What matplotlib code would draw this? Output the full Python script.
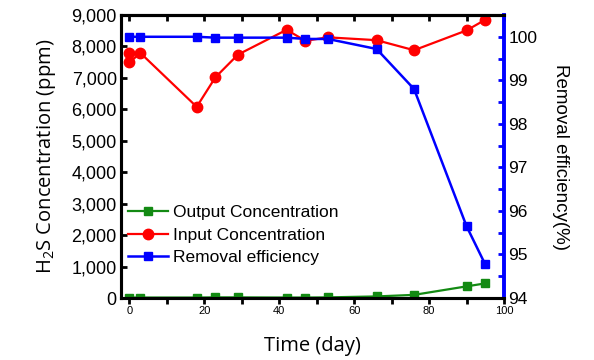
import matplotlib
matplotlib.use('Agg')
import matplotlib.pyplot as plt
from matplotlib.ticker import MultipleLocator, FuncFormatter

# Sampling days
days = [0, 3, 18, 23, 29, 42, 47, 53, 66, 76, 90, 95]
input_days = [0, 0, 3, 18, 23, 29, 42, 47, 53, 66, 76, 90, 95]

# H2S concentrations (ppm)
output_conc = [15, 15, 15, 20, 20, 15, 15, 20, 50, 100, 370, 465]
input_conc = [7790, 7490, 7790, 6080, 7020, 7740, 8530, 8180, 8290, 8200, 7880, 8510, 8850]

# Removal efficiency (%)
removal_eff = [100.0, 100.0, 100.0, 99.98, 99.98, 99.98, 99.95, 99.95, 99.72, 98.8, 95.65, 94.77]

tick_font = 'Liberation Sans'
label_font = 'Open Sans'

plt.rcParams['mathtext.fontset'] = 'custom'
plt.rcParams['mathtext.rm'] = label_font

fig = plt.figure(figsize=(5.94, 3.6), dpi=100)
ax1 = fig.add_axes([0.2037, 0.1722, 0.6448, 0.7861])
ax2 = ax1.twinx()

l_out, = ax1.plot(days, output_conc, color='#138a13', marker='s', markersize=6,
                  linewidth=1.6, label='Output Concentration')
l_in, = ax1.plot(input_days, input_conc, color='#ff0000', marker='o', markersize=7.5,
                 linewidth=1.6, label='Input Concentration')
l_eff, = ax2.plot(days, removal_eff, color='#0000ff', marker='s', markersize=6,
                  linewidth=1.8, label='Removal efficiency')

ax1.set_xlim(-2.2, 100)
ax1.set_ylim(0, 9000)
ax2.set_ylim(94, 100.5)

ax1.xaxis.set_major_locator(MultipleLocator(20))
ax1.xaxis.set_minor_locator(MultipleLocator(10))
ax1.yaxis.set_major_locator(MultipleLocator(1000))
ax1.yaxis.set_major_formatter(FuncFormatter(lambda v, p: f'{int(v):,}'))
ax2.yaxis.set_major_locator(MultipleLocator(1))
ax2.yaxis.set_minor_locator(MultipleLocator(0.5))
ax2.yaxis.set_major_formatter(FuncFormatter(lambda v, p: f'{int(round(v))}'))

# spines
for side in ['left', 'bottom', 'top']:
    ax1.spines[side].set_linewidth(2.2)
    ax2.spines[side].set_linewidth(2.2)
ax2.spines['right'].set_color('#0000ff')
ax2.spines['right'].set_linewidth(2.8)
ax1.spines['right'].set_visible(False)

ax1.tick_params(axis='x', which='both', direction='out', length=4, width=2,
                labelsize=8, pad=2, top=False)
ax1.tick_params(axis='y', which='both', direction='in', length=4, width=2,
                labelsize=13, pad=3)
ax2.tick_params(axis='y', which='both', direction='in', length=4, width=2,
                color='#0000ff', labelsize=12.5, pad=3)

# top ticks pointing inward every 10 days
top = ax1.secondary_xaxis('top')
top.xaxis.set_major_locator(MultipleLocator(10))
top.tick_params(direction='in', length=4, width=2, labeltop=False)
top.spines['top'].set_linewidth(2.2)

for lab in ax1.get_xticklabels() + ax1.get_yticklabels() + ax2.get_yticklabels():
    lab.set_fontfamily(tick_font)

ax1.set_xlabel('Time (day)', fontfamily=label_font, fontsize=14.5, labelpad=14)
ax1.set_ylabel('H$_\\mathrm{2}$S Concentration (ppm)', fontfamily=label_font,
               fontsize=14.5, labelpad=10)
ax2.set_ylabel('Removal efficiency(%)', fontfamily=tick_font, fontsize=13.5,
               rotation=270, labelpad=23)

ax2.legend(handles=[l_out, l_in, l_eff], loc='upper left',
           bbox_to_anchor=(-0.01, 0.365), frameon=False,
           prop={'family': tick_font, 'size': 12.5}, handlelength=2.3,
           handletextpad=0.3, labelspacing=0.42, borderaxespad=0.2)

fig.savefig('out.png', dpi=100)
